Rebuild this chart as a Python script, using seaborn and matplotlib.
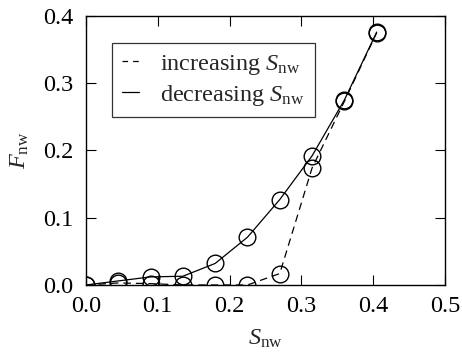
import matplotlib
matplotlib.use("Agg")
import matplotlib.pyplot as plt
import matplotlib.lines as mlines
import seaborn as sns
import pandas as pd

s_nw = [0.0, 0.045, 0.09, 0.135, 0.18, 0.225, 0.27, 0.315, 0.36, 0.405]
f_increasing = [0.0, 0.003, 0.002, 0.0, 0.0, 0.0, 0.017, 0.174, 0.273, 0.375]
f_decreasing = [0.0, 0.006, 0.012, 0.013, 0.032, 0.071, 0.127, 0.192, 0.275, 0.376]
labels = ["increasing $S_\\mathrm{nw}$", "decreasing $S_\\mathrm{nw}$"]

sns.set_theme(style="ticks")
plt.rcParams["font.family"] = ["Liberation Serif", "DejaVu Serif"]
plt.rcParams["mathtext.fontset"] = "custom"
plt.rcParams["mathtext.rm"] = "Liberation Serif"
plt.rcParams["mathtext.it"] = "Liberation Serif:italic"

fig = plt.figure(figsize=(4.62, 3.54), dpi=100)
ax = fig.add_axes([0.186, 0.195, 0.777, 0.76])

df_inc = pd.DataFrame({"S": s_nw, "F": f_increasing})
df_dec = pd.DataFrame({"S": s_nw, "F": f_decreasing})

dash = (0, (6, 4))
mk = dict(marker="o", markersize=12, markerfacecolor="none",
          markeredgecolor="black", markeredgewidth=1.0)
sns.lineplot(data=df_inc, x="S", y="F", ax=ax, color="black", lw=0.9,
             linestyle=dash, sort=False, legend=False, **mk)
sns.lineplot(data=df_dec, x="S", y="F", ax=ax, color="black", lw=0.9,
             linestyle="-", sort=False, legend=False, **mk)

ax.set_xlim(0, 0.5)
ax.set_ylim(0, 0.4)
ax.set_xticks([0.0, 0.1, 0.2, 0.3, 0.4, 0.5])
ax.set_yticks([0.0, 0.1, 0.2, 0.3, 0.4])
ax.xaxis.set_major_formatter(matplotlib.ticker.FormatStrFormatter("%.1f"))
ax.yaxis.set_major_formatter(matplotlib.ticker.FormatStrFormatter("%.1f"))
ax.tick_params(direction="in", top=True, right=True, length=7, width=0.8,
               labelsize=17.5, colors="black")
ax.tick_params(axis="x", pad=8)
ax.tick_params(axis="y", pad=9)
for sp in ax.spines.values():
    sp.set_linewidth(1.0)
    sp.set_color("black")
    sp.set_visible(True)

ax.set_xlabel("$S_\\mathrm{nw}$", fontsize=17.5, labelpad=8)
ax.set_ylabel("$F_\\mathrm{nw}$", fontsize=17.5, labelpad=9)

h1 = mlines.Line2D([], [], color="black", lw=0.9, linestyle=(0, (4.5, 4)))
h2 = mlines.Line2D([], [], color="black", lw=0.9, linestyle="-")
leg = ax.legend([h1, h2], labels, loc="upper left", bbox_to_anchor=(0.072, 0.9),
                fontsize=17.5, frameon=True, fancybox=False, edgecolor="black",
                handlelength=0.7, handletextpad=0.9, borderpad=0.4,
                labelspacing=0.25, borderaxespad=0)
leg.get_frame().set_linewidth(0.9)

fig.savefig("out.png", dpi=100)
